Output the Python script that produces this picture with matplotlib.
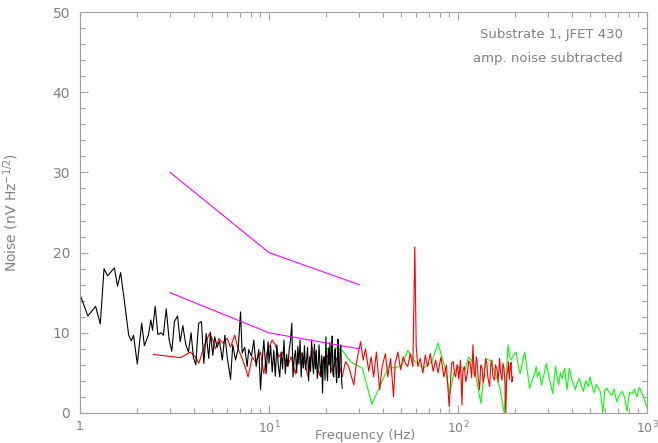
import numpy as np
import matplotlib
matplotlib.use("Agg")
import matplotlib.pyplot as plt
from matplotlib.ticker import FixedLocator, FixedFormatter, MultipleLocator

# black trace (low frequency run)
black_freq = [1.00, 1.10, 1.21, 1.28, 1.34, 1.40, 1.52, 1.58, 1.64, 1.71, 1.81, 1.87, 1.92,
              2.01, 2.12, 2.19, 2.30, 2.37, 2.42, 2.50, 2.58, 2.69, 2.76, 2.86, 2.96, 3.06,
              3.16, 3.28, 3.39, 3.50, 3.63, 3.75, 3.87, 3.98, 4.10, 4.20,
              4.25, 4.39, 4.52, 4.65, 4.80, 4.90, 5.04, 5.16, 5.32, 5.47, 5.66, 5.84, 6.01,
              6.26, 6.43, 6.65, 6.87, 7.07, 7.21, 7.44, 7.66, 7.81, 8.08, 8.31, 8.55, 8.83,
              9.02, 9.21, 9.39, 9.66, 9.89,
              10.0, 10.2, 10.4, 10.6, 10.8, 11.0, 11.2, 11.4, 11.6, 11.8, 12.0, 12.2, 12.4,
              12.6, 12.8, 13.0, 13.2, 13.4, 13.6, 13.8, 14.0, 14.2, 14.4, 14.6, 14.8, 15.0,
              15.2, 15.4, 15.6, 15.8, 16.0, 16.2, 16.4, 16.6, 16.8, 17.0, 17.2, 17.4, 17.6,
              17.8, 18.0, 18.2, 18.4, 18.6, 18.8, 19.0, 19.2, 19.4, 19.6, 19.8, 20.0, 20.2,
              20.4, 20.6, 20.8, 21.0, 21.2, 21.4, 21.6, 21.8, 22.0, 22.2, 22.4, 22.6, 22.8,
              23.0, 23.2, 23.4, 23.6, 23.8, 24.0, 24.2, 24.4]
black_noise = [14.8, 12.1, 13.3, 11.1, 18.0, 17.1, 18.1, 15.8, 17.5, 14.3, 9.7, 9.0, 9.7,
               6.1, 11.2, 8.4, 9.7, 11.6, 10.3, 13.3, 9.8, 10.0, 9.7, 13.0, 9.2, 7.7,
               11.4, 12.1, 8.9, 10.9, 8.5, 7.6, 10.0, 6.9, 6.0, 9.9,
               11.2, 11.4, 6.2, 9.9, 6.8, 10.1, 7.2, 9.5, 8.2, 9.0, 6.6, 9.7, 7.0,
               4.2, 8.5, 6.6, 8.0, 12.6, 7.5, 8.2, 5.8, 7.9, 7.1, 9.1, 5.8, 7.9,
               2.9, 6.6, 9.1, 4.9, 8.9,
               6.2, 8.4, 5.1, 7.8, 4.6, 8.5, 6.0, 4.5, 7.6, 5.5, 9.1, 4.9, 7.3,
               5.8, 8.0, 9.1, 11.2, 4.5, 6.9, 7.8, 5.0, 8.3, 6.1, 9.1, 4.5, 7.5,
               5.6, 8.4, 5.4, 6.6, 8.2, 4.0, 7.0, 5.2, 9.1, 6.3, 4.9, 8.6, 5.5,
               7.8, 4.3, 5.8, 8.5, 6.0, 4.5, 7.2, 2.5, 6.8, 7.0, 4.1, 9.5, 5.7,
               4.0, 8.1, 6.0, 8.8, 5.0, 7.5, 9.6, 4.8, 4.5, 7.4, 8.0, 5.2, 3.8,
               6.9, 9.2, 4.4, 5.5, 7.9, 8.5, 4.2, 3.1]

# red trace
red_freq = [2.45, 2.90, 3.40, 3.84, 4.08, 4.25, 4.57, 4.84, 5.04, 5.21, 5.43, 5.70, 6.01,
            6.26, 6.58, 6.87, 7.21, 7.51, 7.75, 8.15, 8.48, 9.02, 9.39, 9.76, 10.4, 10.8,
            11.3, 11.8, 12.5, 13.1, 13.8, 14.5, 15.3, 16.1, 16.9, 17.6, 18.5, 19.5, 20.3,
            21.6, 23.0, 24.4, 25.4, 26.4, 28.1, 29.0, 30.5, 31.5, 32.4, 33.7, 34.7, 35.8,
            37.0, 38.5, 39.7, 41.3, 42.5, 44.0, 45.6, 46.5, 48.1, 49.7, 51.3, 52.7, 54.2,
            55.9, 57.7, 59.1, 60.1, 61.3, 63.1, 65.2, 67.1, 69.1, 71.4, 73.9, 76.1, 78.4,
            81.3, 84.2, 86.8, 89.8,
            92.5, 94.4, 96, 97.1, 99, 99.8, 101, 103, 105, 106, 108, 110, 112, 114, 116,
            118, 120, 121.5, 123, 125, 126, 128, 130, 132, 134, 136, 138, 140, 142, 144,
            147, 149, 151, 153, 156, 158, 161, 163, 166, 168, 171, 173, 175, 177, 179,
            181, 183, 185, 187, 189, 191, 193, 195]
red_noise = [7.3, 7.1, 6.9, 7.6, 7.0, 6.2, 8.5, 9.9, 9.1, 8.0, 9.3, 8.7, 9.3,
             8.2, 9.7, 8.0, 6.8, 5.6, 4.5, 7.0, 6.4, 7.6, 4.9, 7.6, 9.1, 8.5,
             7.0, 7.6, 5.8, 7.0, 4.9, 7.8, 6.8, 4.5, 8.2, 6.6, 4.7, 7.0, 7.2,
             5.2, 7.0, 4.5, 6.4, 5.8, 3.5, 6.2, 8.9, 6.6, 8.0, 5.2, 7.0, 4.5,
             7.6, 2.9, 5.8, 7.4, 4.5, 6.8, 2.0, 6.2, 7.6, 5.4, 7.0, 6.2, 5.8,
             7.4, 5.8, 20.7, 8.3, 5.8, 6.8, 5.0, 7.2, 5.8, 7.4, 5.2, 6.6, 5.0,
             7.0, 4.5, 6.0, 0.8,
             6.2, 6.4, 4.8, 4.5, 6.0, 5.6, 4.2, 6.6, 1.0, 5.2, 5.8, 3.9, 4.9, 6.5, 6.2,
             4.4, 8.5, 5.0, 4.5, 7.0, 6.6, 4.2, 2.9, 6.0, 5.6, 3.8, 4.7, 6.8, 6.2, 4.4,
             3.3, 5.9, 6.6, 4.6, 4.1, 6.0, 5.4, 3.9, 6.8, 5.0, 4.1, 6.2, 5.6, 4.0, 0.0,
             4.6, 5.1, 6.4, 4.2, 5.8, 6.3, 3.9, 4.5]

# green trace
green_freq = [19.9, 21.9, 23.4, 24.4, 27.0, 29.9, 31.2, 35.0, 43.0, 46.5, 50.5, 54.2, 59.4,
              65.8, 72.9, 78.4, 84.9, 90.4, 94.9, 97.9, 102.7, 109.1, 113.9, 120.7, 125.5,
              132.2, 140.2, 148.8, 157.8, 167.4, 175.6,
              184.0, 188, 191.3, 196, 203.1, 208, 213.2, 219, 225.4, 232, 239.1, 246, 254.9,
              259, 263.4, 270, 276.3, 284, 293.1, 300, 305, 310.9, 316.9, 322, 328.5, 334,
              340.6, 348, 355.9, 361, 366.7, 372, 377.9, 383, 388.8, 395, 402.3, 410,
              417.4, 428, 438.5, 450, 461.3, 468, 476.5, 488, 499.5, 512, 525.2, 538,
              553.5, 568, 583.7, 598, 612.6, 630, 650.4, 670, 690.6, 715, 741.5, 762,
              783.6, 808, 833.0, 858, 885.2, 910, 936.0, 965, 996.0]
green_noise = [8.0, 8.2, 8.0, 7.8, 6.4, 5.8, 5.6, 1.1, 5.8, 5.6, 6.0, 7.8, 6.4,
               5.6, 6.4, 8.7, 5.8, 2.4, 4.9, 5.5, 5.8, 5.4, 7.0, 6.2, 4.0,
               1.2, 6.8, 6.5, 4.9, 2.9, 0.0,
               8.5, 7.0, 6.6, 7.2, 7.6, 6.0, 4.9, 6.3, 7.6, 5.5, 3.1, 4.0, 4.9,
               5.8, 4.5, 5.1, 3.5, 4.6, 6.2, 5.0, 4.2, 3.3, 2.4, 4.1, 5.8, 4.6,
               3.5, 5.0, 4.3, 5.0, 5.6, 4.2, 2.9, 4.4, 5.6, 4.7, 4.0, 3.5,
               2.9, 3.8, 4.3, 3.4, 2.7, 3.6, 4.0, 3.3, 4.5, 3.4, 2.5, 3.6,
               3.1, 2.6, 0.0, 2.9, 3.1, 2.6, 2.2, 3.0, 1.4, 2.3, 2.7, 1.9,
               0.2, 2.6, 2.4, 3.0, 2.0, 3.2, 2.6, 1.8, 0.8]

# two reference lines
ref_freq = [3, 10, 30]
ref_upper = [30, 20, 16]
ref_lower = [15, 10, 8]

grey = '#808080'
plt.rcParams['font.family'] = ['DejaVu Sans']

fig = plt.figure(figsize=(6.58, 4.43), dpi=100)
ax = fig.add_axes([80 / 658, 1 - 413 / 443, 567 / 658, 401 / 443])

ax.plot(green_freq, green_noise, color='#00ff00', lw=0.8)
ax.plot(red_freq, red_noise, color='#ff0000', lw=0.8)
ax.plot(black_freq, black_noise, color='#000000', lw=0.8)
ax.plot(ref_freq, ref_upper, color='#ff00ff', lw=0.8)
ax.plot(ref_freq, ref_lower, color='#ff00ff', lw=0.8)

ax.set_xscale('log')
ax.set_xlim(1, 1000)
ax.set_ylim(0, 50)

ax.xaxis.set_major_locator(FixedLocator([1, 10, 100, 1000]))
ax.xaxis.set_major_formatter(FixedFormatter(['1', '$10^1$', '$10^2$', '$10^3$']))
ax.yaxis.set_major_locator(MultipleLocator(10))
ax.yaxis.set_minor_locator(MultipleLocator(2))

for s in ax.spines.values():
    s.set_color('#a0a0a0')
    s.set_linewidth(0.8)
ax.tick_params(which='both', direction='in', top=True, right=True, color='#a0a0a0',
               labelcolor=grey, labelsize=10, width=0.8)
ax.tick_params(which='major', length=6)
ax.tick_params(which='minor', length=3.5)
ax.tick_params(axis='y', pad=7)
ax.tick_params(axis='x', pad=5, labelsize=9)

ax.set_ylabel('Noise (nV Hz$^{-1/2}$)', color=grey, fontsize=10)
ax.yaxis.set_label_coords(-(80 - 21) / 567, 0.5)
fig.text(365 / 658, 1 - 429 / 443, 'Frequency (Hz)', color=grey, fontsize=9.5,
         ha='center', va='top')

ax.text(0.958, 0.945, 'Substrate 1, JFET 430', transform=ax.transAxes, color=grey,
        fontsize=9.5, ha='right', va='center')
ax.text(0.958, 0.883, 'amp. noise subtracted', transform=ax.transAxes, color=grey,
        fontsize=9.5, ha='right', va='center')

fig.savefig('out.png', dpi=100)
